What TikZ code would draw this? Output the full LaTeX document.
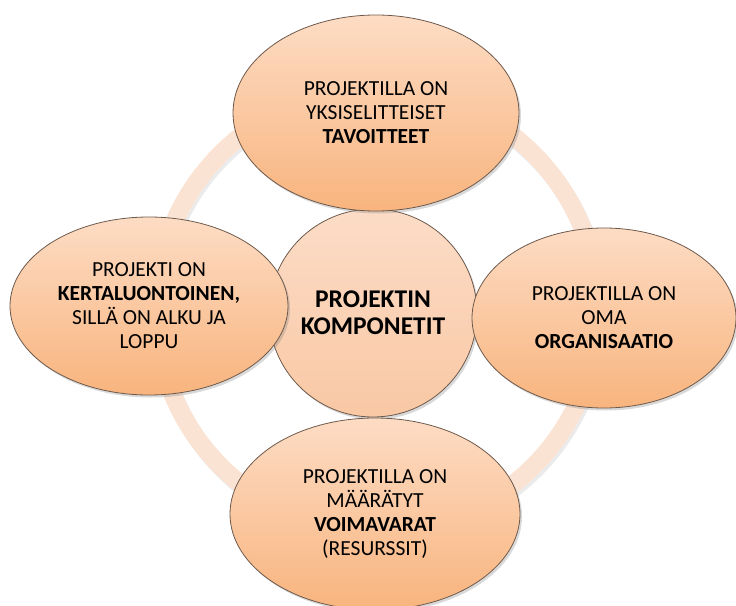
\documentclass[tikz,border=0pt]{standalone}
\usepackage{fontspec}
\setmainfont{Carlito}
\usetikzlibrary{shapes.geometric,shadows}
\definecolor{ringcol}{HTML}{FBE3D4}
\definecolor{elltop}{HTML}{FDDCC4}
\definecolor{ellbot}{HTML}{F8B47E}
\definecolor{cirtop}{HTML}{FCDCC7}
\definecolor{cirbot}{HTML}{F9C8A4}
\definecolor{edgecol}{HTML}{6E5A4C}
\tikzset{
  comp/.style={shape=ellipse, draw=edgecol, line width=0.8pt, inner sep=0pt,
    top color=elltop, bottom color=ellbot, align=center,
    font=\fontsize{21.5}{24}\selectfont,
    drop shadow={opacity=0.3, shadow xshift=2pt, shadow yshift=-2.5pt}},
  hub/.style={shape=circle, draw=edgecol, line width=0.8pt, inner sep=0pt,
    top color=cirtop, bottom color=cirbot, align=center,
    font=\fontsize{25.5}{27}\selectfont\bfseries,
    drop shadow={opacity=0.3, shadow xshift=2pt, shadow yshift=-2.5pt}},
  ringline/.style={line width=18pt, draw=ringcol}
}
\begin{document}
\begin{tikzpicture}[x=1pt,y=-1pt]
\useasboundingbox (0,0) rectangle (736,605);
% background ring
\coordinate (ringc) at (377,310);
\draw[line width=18pt, draw=black, opacity=0.08] ([shift={(2,3)}]ringc) circle (221);
\draw[ringline] (ringc) circle (221);
% hub
\node[hub, minimum size=208pt] (hub) at (373,313) {PROJEKTIN\\KOMPONETIT};
% components
\node[comp, minimum width=286pt, minimum height=196pt] (top) at (376,113)
  {PROJEKTILLA ON\\YKSISELITTEISET\\\textbf{TAVOITTEET}};
\node[comp, minimum width=278pt, minimum height=178pt] (left) at (149,306)
  {PROJEKTI ON\\\textbf{KERTALUONTOINEN,}\\SILLÄ ON ALKU JA\\LOPPU};
\node[comp, minimum width=264pt, minimum height=180pt] (right) at (604,318)
  {PROJEKTILLA ON\\OMA\\\textbf{ORGANISAATIO}};
\node[comp, minimum width=290pt, minimum height=192pt] (bottom) at (375,514)
  {PROJEKTILLA ON\\MÄÄRÄTYT\\\textbf{VOIMAVARAT}\\(RESURSSIT)};
\end{tikzpicture}
\end{document}
